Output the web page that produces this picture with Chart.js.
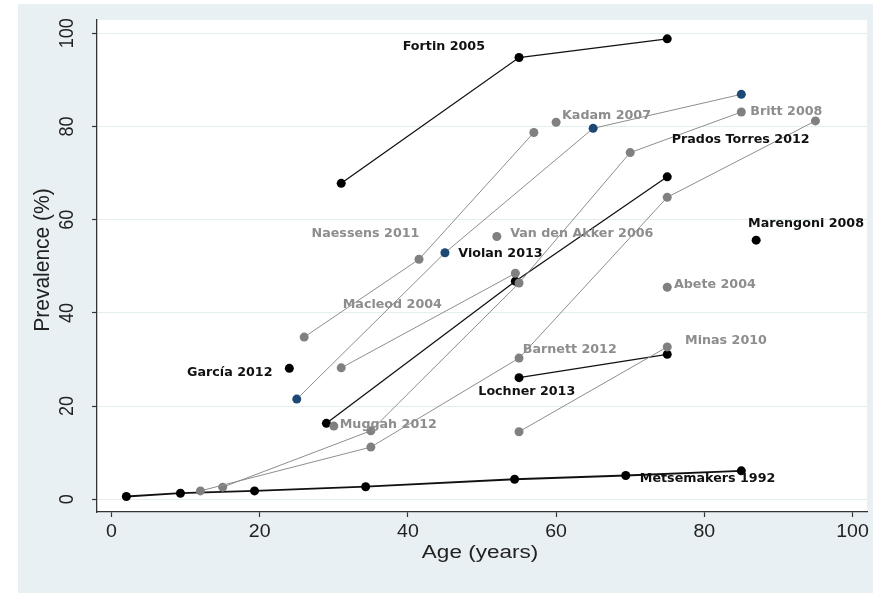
<!DOCTYPE html>
<html>
<head>
<meta charset="utf-8">
<script src="https://cdn.jsdelivr.net/npm/chart.js@4/dist/chart.umd.min.js"></script>
<style>
  html, body { margin: 0; padding: 0; background: #ffffff; }
  canvas { display: block; }
</style>
</head>
<body>
<canvas id="chart" width="873" height="593"></canvas>
<script>
// Axis ticks
const xTicks = [0, 20, 40, 60, 80, 100];
const yTicks = [0, 20, 40, 60, 80, 100];

// Age group midpoints (years) and prevalence (%) for each study
const fortinAge = [31, 55, 75];
const fortinPrev = [67.8, 94.8, 98.8];

const violanAge = [25, 45, 65, 85];
const violanPrev = [21.5, 52.9, 79.6, 86.9];

const naessensAge = [26, 41.5, 57];
const naessensPrev = [34.8, 51.5, 78.7];

const kadamAge = [60];
const kadamPrev = [80.9];

const brittAge = [15, 35, 55, 70, 85];
const brittPrev = [2.6, 14.7, 46.4, 74.4, 83.1];

const barnettAge = [12, 35, 55, 75, 95];
const barnettPrev = [1.8, 11.2, 30.3, 64.8, 81.2];

const pradosAge = [29, 54.5, 75];
const pradosPrev = [16.3, 46.8, 69.2];

const lochnerAge = [55, 75];
const lochnerPrev = [26.1, 31.1];

const minasAge = [55, 75];
const minasPrev = [14.5, 32.7];

const abeteAge = [75];
const abetePrev = [45.5];

const marengoniAge = [87];
const marengoniPrev = [55.6];

const garciaAge = [24];
const garciaPrev = [28.1];

const vandenakkerAge = [52];
const vandenakkerPrev = [56.4];

const macleodAge = [31, 54.5];
const macleodPrev = [28.2, 48.5];

const muggahAge = [30];
const muggahPrev = [15.7];

const metsemakersAge = [2, 9.3, 19.3, 34.3, 54.4, 69.4, 85];
const metsemakersPrev = [0.6, 1.3, 1.8, 2.7, 4.3, 5.1, 6.1];

// Study series: ages, prevalences and marker tone
const studies = [
  { name: 'Barnett 2012', ages: barnettAge, prev: barnettPrev, tone: 'gray' },
  { name: 'Britt 2008', ages: brittAge, prev: brittPrev, tone: 'gray' },
  { name: 'Naessens 2011', ages: naessensAge, prev: naessensPrev, tone: 'gray' },
  { name: 'Macleod 2004', ages: macleodAge, prev: macleodPrev, tone: 'gray' },
  { name: 'Minas 2010', ages: minasAge, prev: minasPrev, tone: 'gray' },
  { name: 'Kadam 2007', ages: kadamAge, prev: kadamPrev, tone: 'gray' },
  { name: 'Abete 2004', ages: abeteAge, prev: abetePrev, tone: 'gray' },
  { name: 'Van den Akker 2006', ages: vandenakkerAge, prev: vandenakkerPrev, tone: 'gray' },
  { name: 'Muggah 2012', ages: muggahAge, prev: muggahPrev, tone: 'gray' },
  { name: 'Violan 2013', ages: violanAge, prev: violanPrev, tone: 'blue' },
  { name: 'Prados Torres 2012', ages: pradosAge, prev: pradosPrev, tone: 'black' },
  { name: 'Lochner 2013', ages: lochnerAge, prev: lochnerPrev, tone: 'black' },
  { name: 'Fortin 2005', ages: fortinAge, prev: fortinPrev, tone: 'black' },
  { name: 'Marengoni 2008', ages: marengoniAge, prev: marengoniPrev, tone: 'black' },
  { name: 'García 2012', ages: garciaAge, prev: garciaPrev, tone: 'black' },
  { name: 'Metsemakers 1992', ages: metsemakersAge, prev: metsemakersPrev, tone: 'black' }
];

// Study name labels, anchored in data units (left edge, vertical middle)
const studyLabels = [
  { text: 'Fortin 2005', x: 39.3, y: 97.1, tone: 'black' },
  { text: 'Kadam 2007', x: 60.8, y: 82.3, tone: 'gray' },
  { text: 'Britt 2008', x: 86.2, y: 83.1, tone: 'gray' },
  { text: 'Prados Torres 2012', x: 75.6, y: 77.1, tone: 'black' },
  { text: 'Marengoni 2008', x: 85.9, y: 59.1, tone: 'black' },
  { text: 'Naessens 2011', x: 27.0, y: 56.9, tone: 'gray' },
  { text: 'Van den Akker 2006', x: 53.8, y: 56.9, tone: 'gray' },
  { text: 'Violan 2013', x: 46.8, y: 52.8, tone: 'black' },
  { text: 'Abete 2004', x: 75.9, y: 46.0, tone: 'gray' },
  { text: 'Macleod 2004', x: 31.2, y: 41.7, tone: 'gray' },
  { text: 'Minas 2010', x: 77.4, y: 34.0, tone: 'gray' },
  { text: 'Barnett 2012', x: 55.5, y: 32.0, tone: 'gray' },
  { text: 'García 2012', x: 10.2, y: 27.1, tone: 'black' },
  { text: 'Lochner 2013', x: 49.5, y: 23.0, tone: 'black' },
  { text: 'Muggah 2012', x: 30.8, y: 15.9, tone: 'gray' },
  { text: 'Metsemakers 1992', x: 71.3, y: 4.4, tone: 'black' }
];

const markerColor = { black: '#000000', gray: '#808080', blue: '#1d4873' };
const lineColor = { black: '#111111', gray: '#8e8e8e', blue: '#8e8e8e' };
const labelColor = { black: '#111111', gray: '#8d8d8d' };

const datasets = studies.map(s => ({
  label: s.name,
  data: s.ages.map((a, i) => ({ x: a, y: s.prev[i] })),
  showLine: true,
  borderColor: lineColor[s.tone],
  borderWidth: s.name === 'Metsemakers 1992' ? 1.8 : (s.tone === 'black' ? 1.3 : 1),
  backgroundColor: markerColor[s.tone],
  pointBackgroundColor: markerColor[s.tone],
  pointBorderWidth: 0,
  pointRadius: 4.5,
  pointHoverRadius: 4.5,
  tension: 0
}));

// Draw text with optional rotation and stretch
function drawText(ctx, text, x, y, sx, sy, align, rotate) {
  ctx.save();
  ctx.translate(x, y);
  if (rotate) ctx.rotate(rotate);
  ctx.scale(sx, sy);
  ctx.textAlign = align;
  ctx.textBaseline = 'middle';
  ctx.fillText(text, 0, 0);
  ctx.restore();
}

const framePlugin = {
  id: 'frame',
  beforeDraw(chart) {
    const { ctx, chartArea: a } = chart;
    ctx.save();
    ctx.fillStyle = '#ffffff';
    ctx.fillRect(0, 0, chart.width, chart.height);
    ctx.fillStyle = '#e9f0f3';
    ctx.fillRect(18, 4, chart.width - 18, chart.height - 4);
    ctx.fillStyle = '#ffffff';
    ctx.fillRect(a.left, a.top, a.right - a.left, a.bottom - a.top);
    ctx.restore();
  },
  afterDatasetsDraw(chart) {
    const { ctx, scales } = chart;
    ctx.save();
    ctx.font = 'bold 12.7px "DejaVu Sans"';
    studyLabels.forEach(l => {
      ctx.fillStyle = labelColor[l.tone];
      drawText(ctx, l.text, scales.x.getPixelForValue(l.x), scales.y.getPixelForValue(l.y), 1, 1, 'left', 0);
    });
    ctx.restore();
  },
  afterDraw(chart) {
    const { ctx, scales, chartArea: a } = chart;
    ctx.save();
    ctx.fillStyle = '#222222';
    // x tick labels
    ctx.font = '17px "Liberation Sans"';
    xTicks.forEach(v => {
      drawText(ctx, String(v), scales.x.getPixelForValue(v), 532, 1.15, 1.12, 'center', 0);
    });
    // y tick labels, rotated
    ctx.font = '18px "Liberation Sans"';
    yTicks.forEach(v => {
      drawText(ctx, String(v), 67, scales.y.getPixelForValue(v), 1, 1.15, 'center', -Math.PI / 2);
    });
    // axis titles
    ctx.font = '18px "Liberation Sans"';
    drawText(ctx, 'Age (years)', (a.left + a.right) / 2 - 2, 553, 1.25, 1.05, 'center', 0);
    ctx.font = '20px "Liberation Sans"';
    drawText(ctx, 'Prevalence (%)', 43, (a.top + a.bottom) / 2 - 6, 1.05, 1.1, 'center', -Math.PI / 2);
    ctx.restore();
  }
};

function fixedTicks(values) {
  return scale => { scale.ticks = values.map(v => ({ value: v })); };
}

new Chart(document.getElementById('chart'), {
  type: 'scatter',
  data: { datasets },
  options: {
    responsive: false,
    animation: false,
    devicePixelRatio: 1,
    layout: { padding: { left: 92, top: 20, right: 6, bottom: 76 } },
    plugins: { legend: { display: false }, tooltip: { enabled: false } },
    scales: {
      x: {
        type: 'linear', min: -1.96, max: 101.96,
        afterBuildTicks: fixedTicks(xTicks),
        ticks: { display: false },
        grid: { drawOnChartArea: false, drawTicks: true, tickLength: 5, tickColor: '#333333', tickWidth: 1.2 },
        border: { display: true, color: '#333333', width: 1.3 }
      },
      y: {
        type: 'linear', min: -2.73, max: 102.85,
        afterBuildTicks: fixedTicks(yTicks),
        ticks: { display: false },
        grid: { color: '#e4edf0', lineWidth: 1, drawTicks: true, tickLength: 5, tickColor: '#333333', tickWidth: 1.2 },
        border: { display: true, color: '#333333', width: 1.3 }
      }
    }
  },
  plugins: [framePlugin]
});
</script>
</body>
</html>
